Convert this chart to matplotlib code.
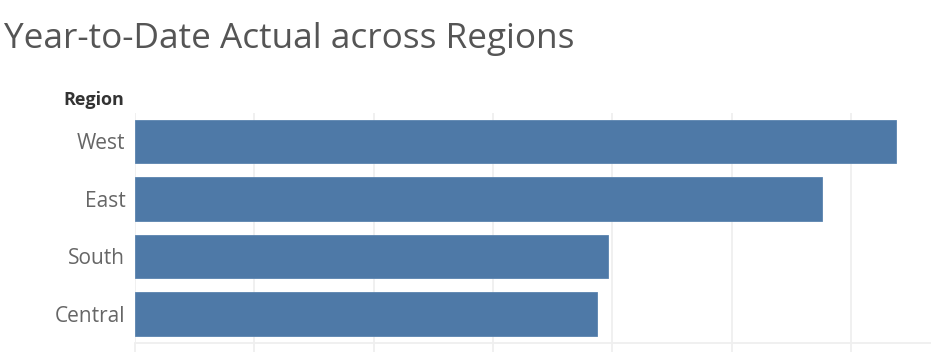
import matplotlib
matplotlib.use("Agg")
import matplotlib.pyplot as plt
import numpy as np

regions = ["West", "East", "South", "Central"]
ytd_actual = [638000, 576000, 396000, 387000]
grid_ticks = [0, 100000, 200000, 300000, 400000, 500000, 600000]

W, H = 931, 357
fig = plt.figure(figsize=(W / 100, H / 100), dpi=100)
fig.patch.set_facecolor("white")

ax_left = 135 / W
ax_bottom = 1 - 342.7 / H
ax_top = 1 - 112.7 / H
ax = fig.add_axes([ax_left, ax_bottom, 1 - ax_left, ax_top - ax_bottom])

y = np.arange(len(regions))
ax.barh(y, ytd_actual, height=0.75, color="#4e79a7", edgecolor="#5a83af",
        linewidth=0.6, zorder=3)
ax.set_ylim(len(regions) - 0.5, -0.5)
ax.set_xlim(0, 667000)

grid_col = "#efefef"
ax.set_xticks(grid_ticks)
ax.set_xticklabels([])
ax.xaxis.grid(True, color=grid_col, linewidth=1.3, zorder=0)
ax.tick_params(axis="x", length=6.5, color=grid_col, width=1.3)
ax.set_yticks(y)
ax.set_yticklabels(regions, fontsize=15, color="#666666", family="Open Sans")
ax.tick_params(axis="y", length=0, pad=7)

for s in ["top", "right", "left"]:
    ax.spines[s].set_visible(False)
ax.spines["bottom"].set_color(grid_col)
ax.spines["bottom"].set_linewidth(1.3)

fig.text(4 / W, 1 - 48 / H, "Year-to-Date Actual across Regions", fontsize=25.3,
         color="#555555", family="Open Sans", ha="left", va="baseline")
fig.text(124 / W, 1 - 105 / H, "Region", fontsize=13, color="#333333",
         family="Open Sans", fontweight="bold", ha="right", va="baseline")

fig.savefig("out.png", dpi=100, facecolor="white")
